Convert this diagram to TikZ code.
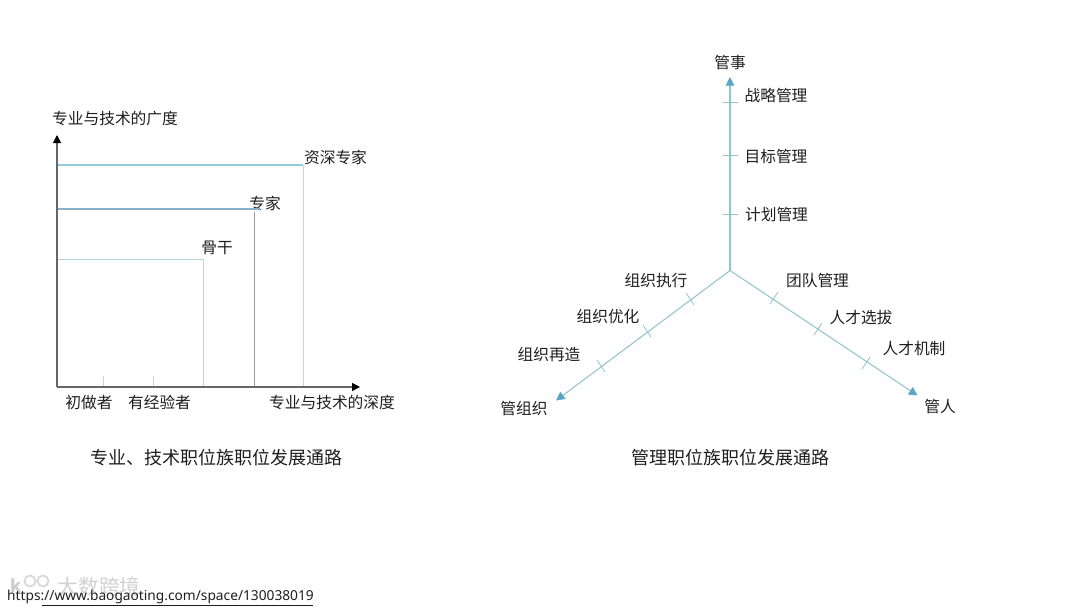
\documentclass[tikz,border=0pt]{standalone}
\usepackage{fontspec}
\setmainfont{Noto Sans CJK SC}
\newfontfamily\urlfont{Noto Sans}
\usetikzlibrary{arrows.meta,positioning}
\definecolor{tipblue}{HTML}{5BA6C4}
\definecolor{axisblue}{HTML}{93C3CF}
\definecolor{topblue}{HTML}{93CCD6}
\definecolor{midblue}{HTML}{86B2CC}
\definecolor{lowblue}{HTML}{B5D3DA}
\definecolor{dropgrey}{HTML}{C6D4DB}
\definecolor{inkgrey}{HTML}{1E1E1E}

\begin{document}
\begin{tikzpicture}[x=0.75pt,y=-0.75pt,>=Stealth,
 lab/.style={inner sep=0pt,yshift=-0.4pt,text=inkgrey,font=\fontsize{11.8pt}{14pt}\selectfont},
 title/.style={inner sep=0pt,yshift=-0.4pt,text=inkgrey,font=\fontsize{13.5pt}{16pt}\selectfont},
 axisline/.style={draw=black!60,line width=0.9pt,-{Stealth[inset=0pt,length=6pt,width=6pt,black]}},
 branch/.style={draw=axisblue,line width=0.8pt,-{Stealth[inset=0pt,length=6.5pt,width=6.5pt,tipblue]}},
 drop/.style={draw=dropgrey,line width=0.7pt},
 tickmark/.style={draw=axisblue,line width=0.6pt}]
\useasboundingbox (0,0) rectangle (1080,608);
% left picture
\coordinate (o) at (57,387);
\coordinate (ytop) at (57,135);
\coordinate (xend) at (360,387);
\node[lab] (ylab) at (115,118) {专业与技术的广度};
\node[lab] (xlab) at (332,402) {专业与技术的深度};
\node[lab] (n1) at (89,402) {初做者};
\node[lab] (n2) at (159.5,402) {有经验者};
\node[lab] (n3) at (217,247) {骨干};
\node[lab] (n4) at (265,203) {专家};
\node[lab] (n5) at (335.5,157) {资深专家};
\node[title] (capa) at (216.5,457) {专业、技术职位族职位发展通路};
\coordinate (a3) at (57,259); \coordinate (b3) at (203,259); \coordinate (c3) at (203,387);
\coordinate (a4) at (57,209); \coordinate (b4) at (260,209);
\coordinate (d4) at (254,212); \coordinate (c4) at (254,387);
\coordinate (a5) at (57,165); \coordinate (b5) at (303,165); \coordinate (c5) at (303,387);
\draw[lowblue,line width=0.7pt] (a3)--(b3);
\draw[drop] (b3)--(c3);
\draw[midblue,line width=1.2pt] (a4)--(b4);
\draw[drop,draw=black!40] (d4)--(c4);
\draw[topblue,line width=1.3pt] (a5)--(b5);
\draw[drop] (b5)--(c5);
\foreach \px in {103,153}
 \draw[drop] (\px,376)--(\px,387);
\draw[axisline] (o)--(ytop);
\draw[axisline] (o)--(xend);
% right picture
\coordinate (hub) at (730,270.5);
\coordinate (up) at (730,77);
\coordinate (sw) at (556,400.5);
\coordinate (se) at (917.5,395.5);
\node[lab] (shi) at (730,62) {管事};
\node[lab] (zu) at (524,408) {管组织};
\node[lab] (ren) at (940,406) {管人};
\node[lab] (s1) at (776,95) {战略管理};
\node[lab] (s2) at (776,156) {目标管理};
\node[lab] (s3) at (776.5,213.5) {计划管理};
\node[lab] (r1) at (817.5,280) {团队管理};
\node[lab] (r2) at (861,317) {人才选拔};
\node[lab] (r3) at (914,348) {人才机制};
\node[lab] (z1) at (656,280) {组织执行};
\node[lab] (z2) at (608,316) {组织优化};
\node[lab] (z3) at (549,354) {组织再造};
\node[title] (capb) at (730,457) {管理职位族职位发展通路};
\draw[branch] (hub)--(up);
\draw[branch] (hub)--(sw);
\draw[branch] (hub)--(se);
\foreach \py in {102.5,155.5,214.5}
 \draw[tickmark] (723,\py)--(738,\py);
\foreach \px/\py in {690/299,647/331,601/366}
 \draw[tickmark] (\px-4,\py-6)--(\px+4,\py+6);
\foreach \px/\py in {774/298,818/329,866/363}
 \draw[tickmark] (\px-4,\py+6)--(\px+4,\py-6);
% watermark
\draw[black!15,line width=1.4pt] (30,581) circle (5.5) (43,581) circle (5.5);
\node[inner sep=0pt,text=black!20,font=\bfseries\fontsize{13pt}{15pt}\selectfont] (kk) at (16,586) {k};
\node[inner sep=0pt,text=black!18,font=\fontsize{15.5pt}{18pt}\selectfont] (mark) at (99,587) {大数跨境};
\node[inner sep=0pt,text=inkgrey,font=\urlfont\fontsize{10.3pt}{12pt}\selectfont] (url) at (160.5,597)
 {https://www.baogaoting.com/space/130038019};
\coordinate (ul0) at (42,605);
\coordinate (ul1) at (313,605);
\draw[inkgrey,line width=0.6pt] (ul0)--(ul1);
\end{tikzpicture}
\end{document}
